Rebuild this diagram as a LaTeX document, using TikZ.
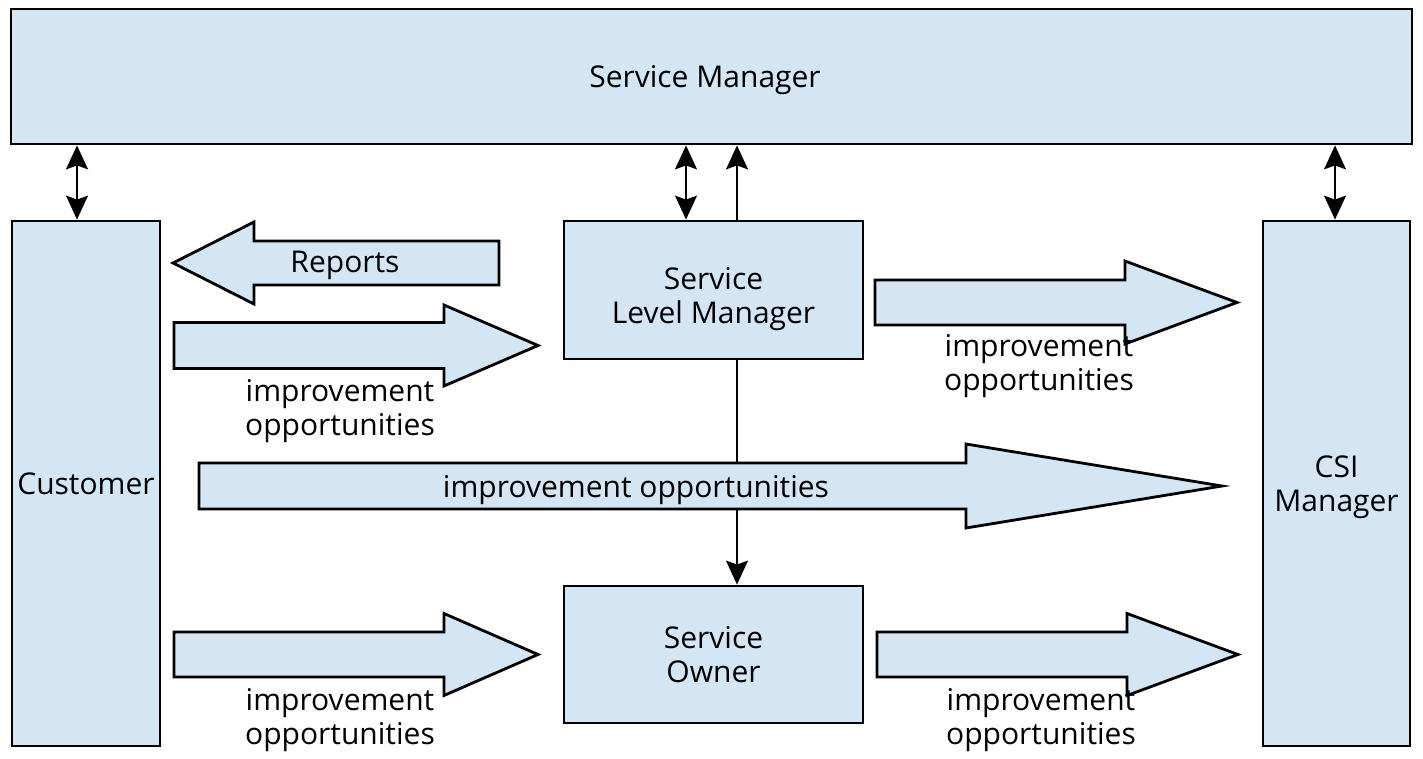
\documentclass[tikz,border=0pt]{standalone}
\usepackage{fontspec}
\setmainfont{Open Sans}
\usetikzlibrary{arrows.meta}
\definecolor{boxblue}{RGB}{212,230,244}

% block arrow: start x, head base x, tip x, centre y, half shaft, half head
\newcommand{\blockarrow}[6]{%
  \draw[fatarrow] (#1,#4-#5) -- (#2,#4-#5) -- (#2,#4-#6) -- (#3,#4)
    -- (#2,#4+#6) -- (#2,#4+#5) -- (#1,#4+#5) -- cycle;}

\begin{document}
\begin{tikzpicture}[x=0.5pt, y=-0.5pt,
    font=\fontsize{15pt}{17pt}\selectfont,
    every node/.style={text depth=0pt},
    rolebox/.style={draw, rectangle, line width=1.4pt, fill=boxblue, align=center, inner sep=0pt},
    fatarrow/.style={draw, line width=1.4pt, fill=boxblue, line join=miter},
    link/.style={line width=0.75pt, -{Stealth[length=12pt, width=11pt, inset=2pt]}},
    dbllink/.style={line width=0.75pt, {Stealth[length=12pt, width=11pt, inset=2pt]}-{Stealth[length=12pt, width=11pt, inset=2pt]}},
    oplabel/.style={align=center, inner sep=0pt}]
  \useasboundingbox (0,0) rectangle (1423,759);

  % roles
  \node[rolebox, minimum width=700.5pt, minimum height=67.5pt] (sm) at (711.5,76.5) {Service Manager\hspace{6.5pt}};
  \node[rolebox, minimum width=74pt, minimum height=262.5pt] (cust) at (86,483.5) {Customer};
  \node[rolebox, minimum width=73.5pt, minimum height=262.5pt] (csi) at (1336.5,483.5) {CSI\\Manager};
  \node[rolebox, minimum width=149.5pt, minimum height=69pt,
    label={[oplabel, yshift=-2.5pt]center:{Service\\Level Manager}}] (slm) at (713.5,290) {};
  \node[rolebox, minimum width=149.5pt, minimum height=68.5pt] (so) at (713.5,654.5) {Service\\Owner};

  % links to the service manager
  \draw[dbllink] ([xshift=-4.5pt]cust.north) -- ([xshift=-4.5pt]cust.north |- sm.south);
  \draw[dbllink] ([xshift=-13.75pt]slm.north) -- ([xshift=-13.75pt]slm.north |- sm.south);
  \draw[link] ([xshift=11.75pt]slm.north) -- ([xshift=11.75pt]slm.north |- sm.south);
  \draw[dbllink] ([xshift=-0.75pt]csi.north) -- ([xshift=-0.75pt]csi.north |- sm.south);

  % service level manager to service owner
  \draw[link] ([xshift=11.75pt]slm.south) -- ([xshift=11.75pt]slm.south |- so.north);

  % block arrows
  \blockarrow{499}{254}{173}{263}{22}{41}
  \node (reports) at (345,262) {Reports};

  \blockarrow{174}{444}{538}{345.5}{23}{40.5}
  \node[oplabel] (op1) at (340,407) {improvement\\opportunities};

  \blockarrow{875}{1125}{1237}{302.5}{22.5}{41.5}
  \node[oplabel] (op2) at (1039,362) {improvement\\opportunities};

  \blockarrow{199}{966}{1222}{486}{23}{42}
  \node (op3) at (636,486) {improvement opportunities};

  \blockarrow{174}{444}{538}{654.5}{22.5}{41}
  \node[oplabel] (op4) at (340,716) {improvement\\opportunities};

  \blockarrow{877}{1127}{1238}{654.5}{22.5}{41}
  \node[oplabel] (op5) at (1041,716) {improvement\\opportunities};
\end{tikzpicture}
\end{document}
